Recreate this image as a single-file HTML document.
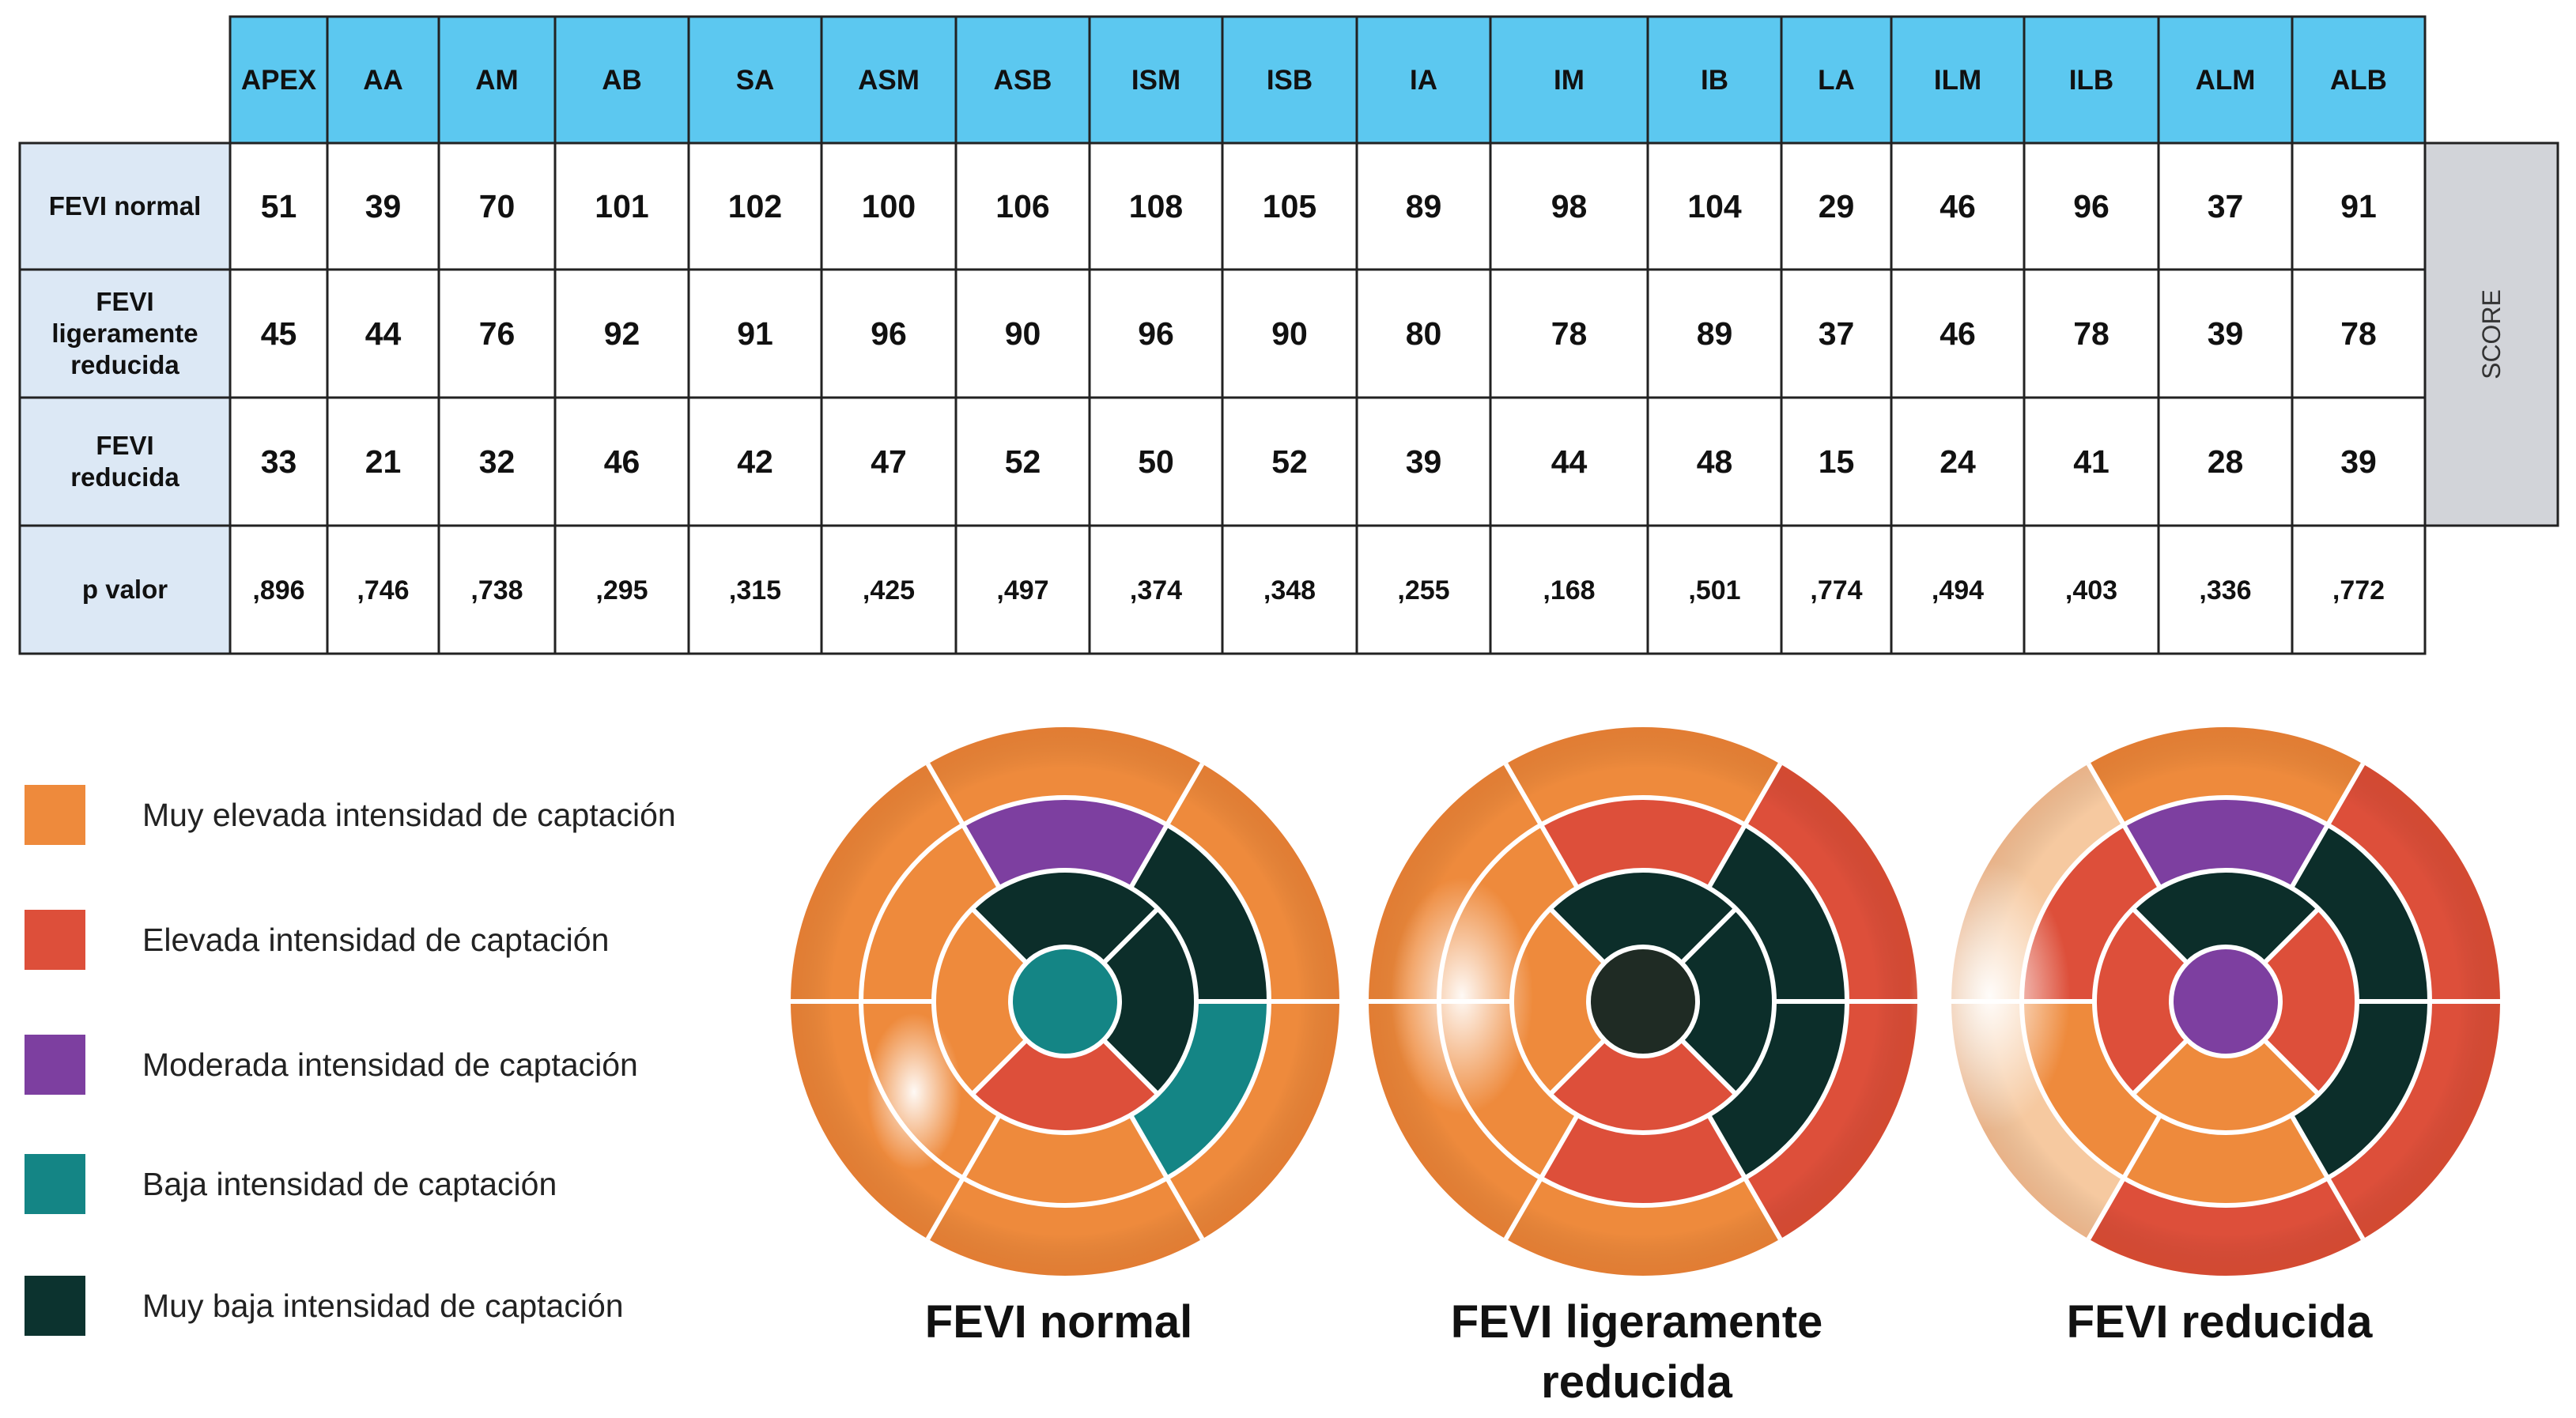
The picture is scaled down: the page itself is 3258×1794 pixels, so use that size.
<!DOCTYPE html>
<html><head><meta charset="utf-8"><style>
html,body{margin:0;padding:0;background:#fff;}
svg{display:block;}
text{font-family:"Liberation Sans Narrow","Liberation Sans",sans-serif;}
</style></head><body>
<svg id="s" width="3258" height="1794" viewBox="0 0 3258 1794" xmlns="http://www.w3.org/2000/svg">
<defs>
<radialGradient id="hl"><stop offset="0" stop-color="#fff" stop-opacity="0.95"/><stop offset="1" stop-color="#fff" stop-opacity="0"/></radialGradient>
<radialGradient id="shade" cx="0.5" cy="0.5" r="0.5"><stop offset="0.85" stop-color="#000" stop-opacity="0"/><stop offset="1" stop-color="#a03000" stop-opacity="0.15"/></radialGradient>
</defs>
</svg>
<script>
const headers=["APEX","AA","AM","AB","SA","ASM","ASB","ISM","ISB","IA","IM","IB","LA","ILM","ILB","ALM","ALB"];
const rowLabels=[["FEVI normal"],["FEVI","ligeramente","reducida"],["FEVI","reducida"],["p valor"]];
const normalVals=[51,39,70,101,102,100,106,108,105,89,98,104,29,46,96,37,91];
const mildVals=[45,44,76,92,91,96,90,96,90,80,78,89,37,46,78,39,78];
const reducedVals=[33,21,32,46,42,47,52,50,52,39,44,48,15,24,41,28,39];
const pVals=[",896",",746",",738",",295",",315",",425",",497",",374",",348",",255",",168",",501",",774",",494",",403",",336",",772"];
const legendLabels=["Muy elevada intensidad de captación","Elevada intensidad de captación","Moderada intensidad de captación","Baja intensidad de captación","Muy baja intensidad de captación"];
const legendColors=["#ee8a3c","#dd4f3a","#7d3fa0","#148585","#0c332f"];
const C={O:"#ee8a3c",R:"#dd4f3a",P:"#7d3fa0",T:"#148585",D:"#0c2e2a",W:"#f6c9a0",B:"#1f2b24"};
const figTitles=[["FEVI normal"],["FEVI ligeramente","reducida"],["FEVI reducida"]];
const basalSegs=[["O","O","O","O","O","O"],["R","O","O","O","O","R"],["R","O","W","W","R","R"]];
const midSegs=[["D","P","O","O","O","T"],["D","R","O","O","R","D"],["D","P","R","O","O","D"]];
const apicalSegs=[["D","D","O","R"],["D","D","O","R"],["R","D","R","O"]];
const apexSeg=["T","B","P"];

const svg=document.getElementById('s');
const NS="http://www.w3.org/2000/svg";
function mk(tag,attrs,parent){const e=document.createElementNS(NS,tag);for(const k in attrs)e.setAttribute(k,attrs[k]);(parent||svg).appendChild(e);return e;}

const colX=[291,414,555,702,871,1039,1209,1378,1546,1716,1885,2084,2253,2392,2560,2730,2899,3067];
const rowY=[21,181,341,503,665,827];
const labelX0=25;
const tbl=mk('g',{});


for(let i=0;i<headers.length;i++){
  const r=mk('rect',{x:colX[i],y:rowY[0],width:colX[i+1]-colX[i],height:rowY[1]-rowY[0],fill:"#5cc8f0",stroke:"#222","stroke-width":3},tbl);
  
  
  const t=mk('text',{x:(colX[i]+colX[i+1])/2,y:(rowY[0]+rowY[1])/2+12,"text-anchor":"middle","font-size":35,"font-weight":"bold",fill:"#111"},tbl);
  t.textContent=headers[i];
  
  
}
const rows=[normalVals,mildVals,reducedVals,pVals];
for(let r=0;r<4;r++){
  const y0=rowY[r+1],y1=rowY[r+2],cy=(y0+y1)/2;
  const lr=mk('rect',{x:labelX0,y:y0,width:colX[0]-labelX0,height:y1-y0,fill:"#dce8f5",stroke:"#222","stroke-width":3},tbl);
  
  
  const lines=rowLabels[r];
  lines.forEach((ln,k)=>{
    const t=mk('text',{x:(labelX0+colX[0])/2,y:cy+11+(k-(lines.length-1)/2)*40,"text-anchor":"middle","font-size":33,"font-weight":"bold",fill:"#111"},tbl);
    t.textContent=ln;
    
    
  });
  for(let i=0;i<headers.length;i++){
    const c=mk('rect',{x:colX[i],y:y0,width:colX[i+1]-colX[i],height:y1-y0,fill:"#fff",stroke:"#222","stroke-width":3},tbl);
    
    
    const t=mk('text',{x:(colX[i]+colX[i+1])/2,y:cy+(r==3?12:14),"text-anchor":"middle","font-size":r==3?34:41,"font-weight":"bold",fill:"#111"},tbl);
    t.textContent=rows[r][i];
    
    
  }
}
const sc=mk('rect',{x:3067,y:181,width:168,height:484,fill:"#d2d4d9",stroke:"#222","stroke-width":3},tbl);


const st=mk('text',{x:0,y:0,"text-anchor":"middle","font-size":32,fill:"#333",transform:"translate(3162,423) rotate(-90)"},tbl);
st.textContent="SCORE";



const legY=[1031,1189,1347,1498,1652];
for(let i=0;i<5;i++){
  const g=mk('g',{});
  
  
  mk('rect',{x:31,y:legY[i]-38,width:77,height:76,fill:legendColors[i]},g);
  const t=mk('text',{x:180,y:legY[i]+14,"font-size":41,fill:"#222"},g);
  t.style.fontFamily='"Liberation Sans",sans-serif';
  t.textContent=legendLabels[i];
}

const centers=[1347,2078,2815], CY=1267;
const R=[347,258,166,69];
function sector(cx,cy,r0,r1,a0,a1){
  const p=(r,a)=>[cx+r*Math.cos(a*Math.PI/180),cy-r*Math.sin(a*Math.PI/180)];
  const [x1,y1]=p(r1,a0),[x2,y2]=p(r1,a1),[x3,y3]=p(r0,a1),[x4,y4]=p(r0,a0);
  const lg=(a1-a0)>180?1:0;
  return `M${x1},${y1} A${r1},${r1} 0 ${lg} 0 ${x2},${y2} L${x3},${y3} A${r0},${r0} 0 ${lg} 1 ${x4},${y4} Z`;
}
const hlPos=[[[-0.55,-0.33],100],[[-0.66,0.02],150],[[-0.86,0.02],170]];
for(let f=0;f<3;f++){
  const cx=centers[f];
  const g=mk('g',{});
  
  
  for(let s=0;s<6;s++){
    const p=mk('path',{d:sector(cx,CY,R[1],R[0],s*60,(s+1)*60),fill:C[basalSegs[f][s]]},g);
    
    
    const q=mk('path',{d:sector(cx,CY,R[2],R[1],s*60,(s+1)*60),fill:C[midSegs[f][s]]},g);
    
    
  }
  for(let s=0;s<4;s++){
    const p=mk('path',{d:sector(cx,CY,R[3],R[2],-45+s*90,45+s*90),fill:C[apicalSegs[f][s]]},g);
    
    
  }
  const ap=mk('circle',{cx:cx,cy:CY,r:R[3],fill:C[apexSeg[f]]},g);
  
  
  mk('circle',{cx:cx,cy:CY,r:R[0],fill:"url(#shade)"},g);
  const h=hlPos[f];
  mk('ellipse',{cx:cx+h[0][0]*R[0],cy:CY-h[0][1]*R[0],rx:h[1]*0.6,ry:h[1],fill:"url(#hl)"},g);
  const L={stroke:"#fff","stroke-width":6,fill:"none"};
  for(let k=1;k<4;k++) mk('circle',Object.assign({cx:cx,cy:CY,r:R[k]},L),g);
  for(let k=0;k<6;k++){const a=k*60*Math.PI/180;
    mk('line',Object.assign({x1:cx+R[2]*Math.cos(a),y1:CY-R[2]*Math.sin(a),x2:cx+R[0]*Math.cos(a),y2:CY-R[0]*Math.sin(a)},L),g);}
  for(let k=0;k<4;k++){const a=(45+k*90)*Math.PI/180;
    mk('line',Object.assign({x1:cx+R[3]*Math.cos(a),y1:CY-R[3]*Math.sin(a),x2:cx+R[2]*Math.cos(a),y2:CY-R[2]*Math.sin(a)},L),g);}
  figTitles[f].forEach((ln,k)=>{
    const t=mk('text',{x:cx-8,y:1692+k*76,"text-anchor":"middle","font-size":58,"font-weight":"bold",fill:"#111"});
    t.style.fontFamily='"Liberation Sans",sans-serif';
    t.textContent=ln;
    
    
  });
}
</script>
</body></html>
